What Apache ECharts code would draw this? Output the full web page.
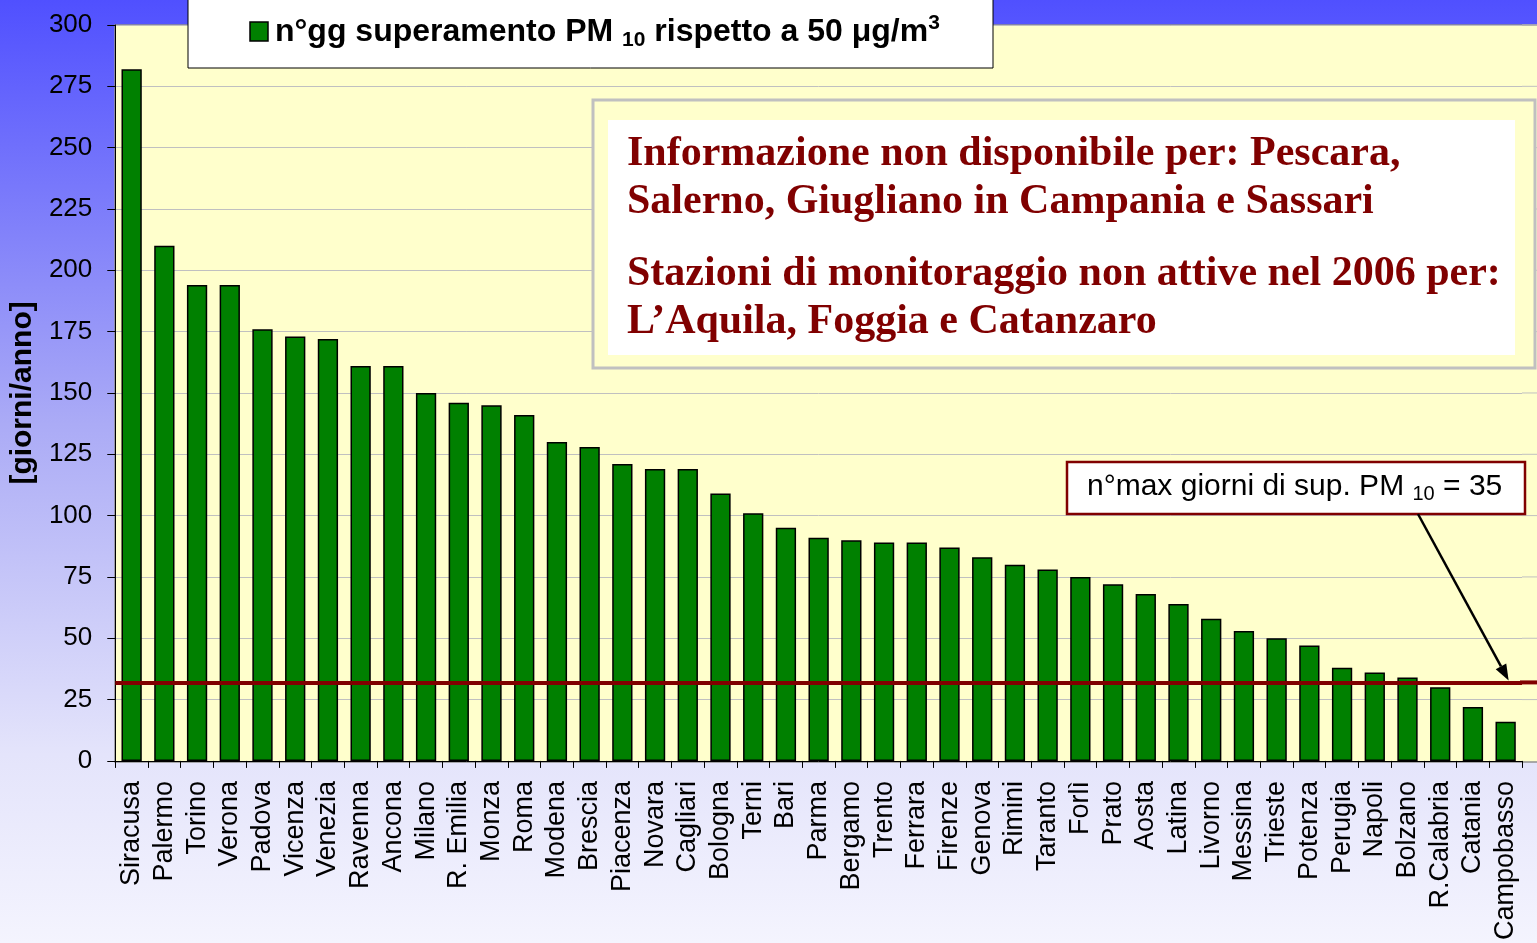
<!DOCTYPE html>
<html>
<head>
<meta charset="utf-8">
<script src="https://cdn.jsdelivr.net/npm/echarts@6/dist/echarts.min.js"></script>
<style>html,body{margin:0;padding:0;}#c{width:1537px;height:943px;}</style>
</head>
<body>
<div id="c"></div>
<script>
const categories = ['Siracusa','Palermo','Torino','Verona','Padova','Vicenza','Venezia','Ravenna','Ancona','Milano','R. Emilia','Monza','Roma','Modena','Brescia','Piacenza','Novara','Cagliari','Bologna','Terni','Bari','Parma','Bergamo','Trento','Ferrara','Firenze','Genova','Rimini','Taranto','Forlì','Prato','Aosta','Latina','Livorno','Messina','Trieste','Potenza','Perugia','Napoli','Bolzano','R.Calabria','Catania','Campobasso'];
const values = [282,210,194,194,176,173,172,161,161,150,146,145,141,130,128,121,119,119,109,101,95,91,90,89,89,87,83,80,78,75,72,68,64,58,53,50,47,38,36,34,30,22,16];
const threshold = 32;
const yMin = 0, yMax = 300, yInterval = 25;
const seriesName = 'n°gg superamento PM 10 rispetto a 50 μg/m3';
const yAxisTitle = '[giorni/anno]';
const noteLines = ['Informazione non disponibile per: Pescara,','Salerno, Giugliano in Campania e Sassari','Stazioni di monitoraggio non attive nel 2006 per:','L’Aquila, Foggia e Catanzaro'];

const chart = echarts.init(document.getElementById('c'));
const sans = '"Liberation Sans", Arial, sans-serif';
const serif = '"Liberation Serif", "DejaVu Serif", serif';
const noteFont = 'bold 42px ' + serif;

const option = {
  animation: false,
  backgroundColor: {type:'linear', x:0, y:0, x2:0, y2:1, colorStops:[
    {offset:0, color:'#5050FF'},{offset:0.45, color:'#ABABF6'},{offset:0.8, color:'#E4E4FB'},{offset:1, color:'#F4F4FE'}]},
  grid: {left:115, right:15, top:25, bottom:181, show:false},
  xAxis: {
    type:'category', data: categories,
    axisLine:{lineStyle:{color:'#000', width:1}},
    axisTick:{show:true, length:7, lineStyle:{color:'#000'}},
    axisLabel:{rotate:90, interval:0, fontFamily:sans, fontSize:27, color:'#000', margin:20}
  },
  yAxis: {
    type:'value', min:yMin, max:yMax, interval:yInterval,
    name: yAxisTitle, nameLocation:'middle', nameGap:68,
    nameTextStyle:{fontFamily:sans, fontSize:30, fontWeight:'bold', color:'#000'},
    axisLine:{show:true, lineStyle:{color:'#000', width:1}},
    axisTick:{show:true, length:8, lineStyle:{color:'#000'}},
    axisLabel:{fontFamily:sans, fontSize:26, color:'#000', margin:23},
    splitLine:{show:true, lineStyle:{color:'#C0C0C0', width:1}}
  },
  series: [{
    type:'bar', name: seriesName, data: values,
    barCategoryGap:'38%',
    itemStyle:{color:'#008000', borderColor:'#000', borderWidth:1.5},
    markLine:{
      silent:true, symbol:['none','none'], label:{show:false},
      lineStyle:{color:'#800000', width:4, type:'solid'},
      data:[{yAxis: threshold}]
    }
  }],
  graphic: [
    {type:'rect', z:-10, shape:{x:115, y:25, width:1430, height:737}, style:{fill:'#FFFFCC', stroke:'#909090', lineWidth:1.5}},
    // legend box
    {type:'rect', z:50, shape:{x:188, y:-5, width:805, height:73}, style:{fill:'#fff', stroke:'#000', lineWidth:1}},
    {type:'rect', z:51, shape:{x:250, y:22, width:18, height:19}, style:{fill:'#008000', stroke:'#000', lineWidth:1.5}},
    {type:'text', z:51, x:275, y:32, style:{
      text:'{a|n°gg superamento PM }{s|10}{a| rispetto a 50 μg/m}{p|3}',
      verticalAlign:'middle', align:'left',
      rich:{
        a:{fontFamily:sans, fontWeight:'bold', fontSize:32, color:'#000', lineHeight:38, verticalAlign:'middle'},
        s:{fontFamily:sans, fontWeight:'bold', fontSize:21, color:'#000', lineHeight:38, verticalAlign:'bottom'},
        p:{fontFamily:sans, fontWeight:'bold', fontSize:21, color:'#000', lineHeight:38, verticalAlign:'top'}
      }}},
    // note box
    {type:'rect', z:50, shape:{x:593, y:100, width:942, height:268}, style:{fill:'#FFFFCC', stroke:'#C0C0C0', lineWidth:3}},
    {type:'rect', z:51, shape:{x:608, y:120, width:907, height:235}, style:{fill:'#fff'}},
    {type:'text', z:52, x:627, y:154, style:{text:noteLines[0], font:noteFont, fill:'#800000', verticalAlign:'middle'}},
    {type:'text', z:52, x:627, y:202, style:{text:noteLines[1], font:noteFont, fill:'#800000', verticalAlign:'middle'}},
    {type:'text', z:52, x:627, y:274, style:{text:noteLines[2], font:noteFont, fill:'#800000', verticalAlign:'middle'}},
    {type:'text', z:52, x:627, y:322, style:{text:noteLines[3], font:noteFont, fill:'#800000', verticalAlign:'middle'}},
    // threshold annotation
    {type:'rect', z:50, shape:{x:1067, y:462, width:458, height:52}, style:{fill:'#fff', stroke:'#800000', lineWidth:2.5}},
    {type:'text', z:51, x:1087, y:487, style:{
      text:'{a|n°max giorni di sup. PM }{s|10}{a| = 35}',
      verticalAlign:'middle', align:'left',
      rich:{
        a:{fontFamily:sans, fontSize:30, color:'#000', lineHeight:34, verticalAlign:'middle'},
        s:{fontFamily:sans, fontSize:20, color:'#000', lineHeight:34, verticalAlign:'bottom'}
      }}}
  ]
};
chart.setOption(option);

// extensions of gridlines and threshold line to the right edge of the plot background
const extra = [];
const lastCat = categories[categories.length-1];
for (let v = yMin; v <= yMax; v += yInterval) {
  if (v === yMin) continue;
  const p = chart.convertToPixel({gridIndex:0}, [lastCat, v]);
  extra.push({type:'line', z:-5, shape:{x1:1522, y1:p[1], x2:1537, y2:p[1]}, style:{stroke:'#C0C0C0', lineWidth:1}});
}
const tp = chart.convertToPixel({gridIndex:0}, [lastCat, threshold]);
extra.push({type:'line', z:5, shape:{x1:1520, y1:tp[1], x2:1537, y2:tp[1]}, style:{stroke:'#800000', lineWidth:4}});

// arrow from annotation box to threshold line at last category
const sx = 1418, sy = 514;
const ex = tp[0] + 3, ey = tp[1] - 2;
const ang = Math.atan2(ey - sy, ex - sx);
const hl = 16, hw = 6;
const bx = ex - hl*Math.cos(ang), by = ey - hl*Math.sin(ang);
const px = -Math.sin(ang)*hw, py = Math.cos(ang)*hw;
extra.push({type:'line', z:60, shape:{x1:sx, y1:sy, x2:bx, y2:by}, style:{stroke:'#000', lineWidth:2.5}});
extra.push({type:'polygon', z:60, shape:{points:[[ex,ey],[bx+px,by+py],[bx-px,by-py]]}, style:{fill:'#000'}});
chart.setOption({graphic: option.graphic.concat(extra)}, {replaceMerge:['graphic']});
</script>
</body>
</html>
